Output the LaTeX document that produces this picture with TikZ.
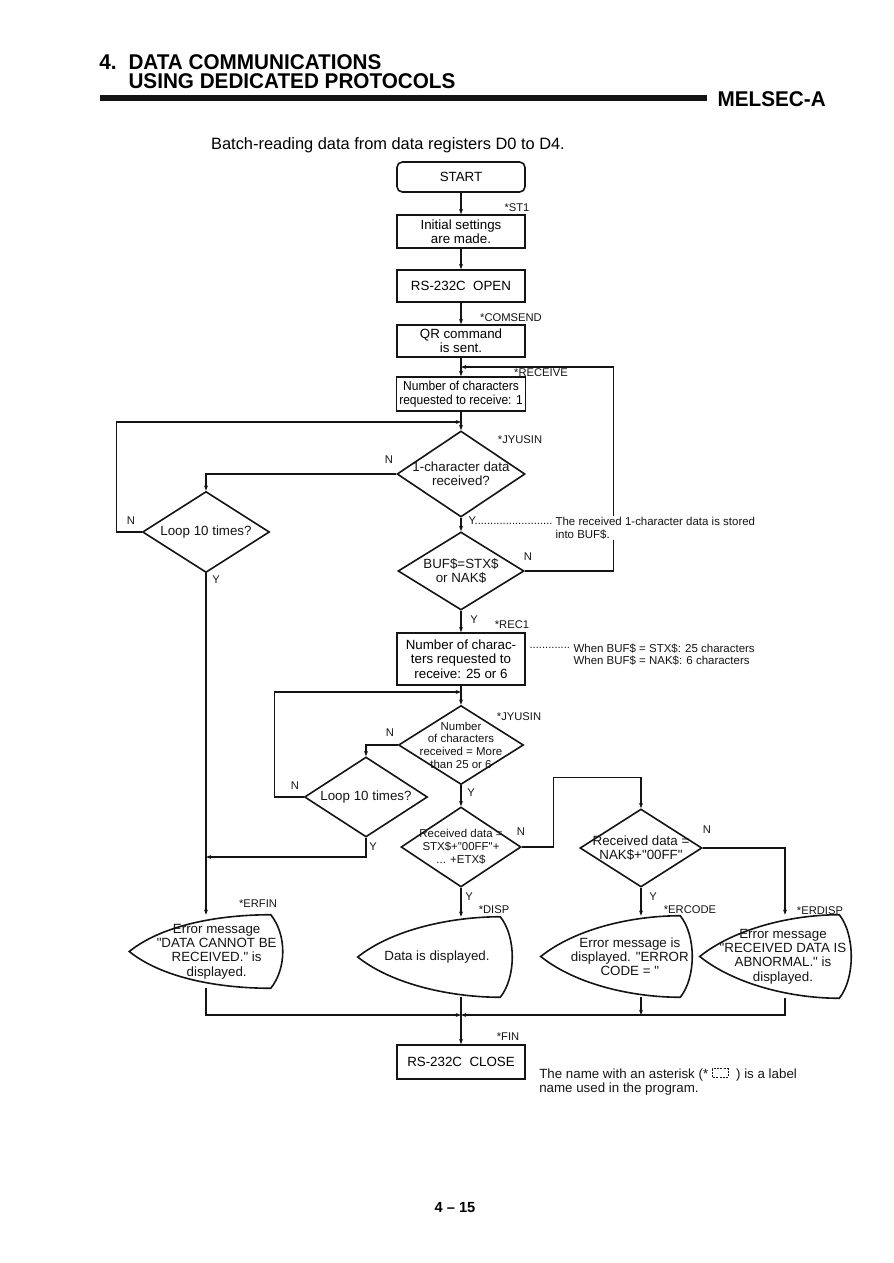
\documentclass[tikz,border=0pt]{standalone}
\usepackage{fontspec}
\setmainfont{Liberation Sans}
\newfontfamily\headfont[FakeStretch=0.97]{Liberation Sans}
\newfontfamily\narrowfont[FakeStretch=0.92]{Liberation Sans}
\usetikzlibrary{arrows.meta,positioning,calc,shapes.geometric}
\definecolor{Ink}{HTML}{141414}

\newcommand{\dispedge}[1]{%
  \draw[shapeline] (#1.west)
    .. controls ($(#1.west)+(35,-28)$) and ($(#1.north east)+(-60,0)$) .. ($(#1.north east)+(-12,0)$)
    .. controls ($(#1.north east)+(4,20)$) and ($(#1.south east)+(4,-20)$) .. ($(#1.south east)+(-12,0)$)
    .. controls ($(#1.south east)+(-60,0)$) and ($(#1.west)+(35,28)$) .. cycle;}
\newcommand{\dq}{\textquotedbl}

\begin{document}
\begin{tikzpicture}[x=0.75pt,y=-0.75pt,
    box/.style={rectangle,draw=Ink,line width=1.2pt,minimum width=96pt,align=center,inner sep=2pt,font=\fontsize{10}{10.8}\selectfont},
    term/.style={box,rounded corners=4pt},
    dec/.style={diamond,draw=Ink,line width=1.2pt,inner sep=0pt},
    dtext/.style={align=center,inner sep=0pt,text=Ink,font=\fontsize{10}{10.7}\selectfont},
    dispbox/.style={rectangle,inner sep=0pt},
    shapeline/.style={draw=Ink,line width=1.2pt},
    arr/.style={-{Stealth[length=4pt,width=3pt]},draw=Ink,line width=0.9pt},
    lbl/.style={inner sep=1pt,text=Ink,font=\fontsize{8.4}{9}\selectfont},
    note/.style={align=left,inner sep=1pt,text=Ink,font=\fontsize{8.6}{9.2}\selectfont}
]
\useasboundingbox (0,0) rectangle (893,1263);

\node[anchor=north west,align=left,inner sep=0pt,font=\headfont\bfseries\fontsize{16}{14.6}\selectfont] (head) at (99,54)
  {4.\hspace{9pt}DATA COMMUNICATIONS\\\phantom{4.}\hspace{9pt}USING DEDICATED PROTOCOLS};
\fill[Ink] (100,95) rectangle (707,101);
\node[anchor=base east,inner sep=0pt,font=\headfont\bfseries\fontsize{16}{18}\selectfont] (brand) at (826,106) {MELSEC-A};
\node[font=\fontsize{12.3}{14}\selectfont] (title) at (388,145) {Batch-reading data from data registers D0 to D4.};

\node[term,minimum height=22.5pt] (start) at (461,177) {START};
\node[box,minimum height=24.75pt] (init) at (461,231.5) {Initial settings\\are made.};
\node[box,minimum height=24pt] (open) at (461,286) {RS-232C\ \ OPEN};
\node[box,minimum height=24pt] (qr) at (461,341) {QR command\\is sent.};
\node[box,minimum height=25.5pt,font=\narrowfont\fontsize{9.8}{10.5}\selectfont] (num1) at (461,394) {Number of characters\\requested to receive: 1};
\node[dec,minimum width=96pt,minimum height=64.5pt,label={[dtext]center:1-character data\\received?}] (chr) at (461,474) {};
\node[dec,minimum width=95.25pt,minimum height=60.75pt,label={[dtext]center:Loop 10 times?}] (loop1) at (206,532) {};
\node[dec,minimum width=94.5pt,minimum height=58.5pt,label={[dtext]center:BUF\$=STX\$\\or NAK\$}] (buf) at (461,571) {};
\node[box,minimum height=39pt] (num2) at (461,659) {Number of charac-\\ters requested to\\receive: 25 or 6};
\node[dec,minimum width=93.75pt,minimum height=59.25pt,label={[dtext,font=\fontsize{8.6}{9.5}\selectfont]center:Number\\of characters\\received = More\\than 25 or 6}] (cnt) at (461,745) {};
\node[dec,minimum width=92.25pt,minimum height=60pt,label={[dtext]center:Loop 10 times?}] (loop2) at (366,797) {};
\node[dec,minimum width=90pt,minimum height=60pt,label={[dtext,font=\fontsize{8.6}{9.7}\selectfont]center:Received data =\\STX\$+\dq00FF\dq+\\... +ETX\$}] (stx) at (461,847) {};
\node[dec,minimum width=91.5pt,minimum height=58.5pt,label={[dtext]center:Received data =\\NAK\$+\dq00FF\dq}] (nak) at (641,848) {};

\node[dispbox,minimum width=114.75pt,minimum height=54.75pt,label={[dtext,xshift=8pt]center:Error message\\\dq DATA CANNOT BE\\RECEIVED.\dq\ is\\displayed.}] (erfin) at (206,951.5) {};
\node[dispbox,minimum width=115.5pt,minimum height=60pt,label={[dtext,xshift=1.5pt]center:Data is displayed.}] (disp) at (435,957) {};
\node[dispbox,minimum width=113.25pt,minimum height=60.75pt,label={[dtext,xshift=10pt]center:Error message is\\displayed. \dq ERROR\\CODE = \dq}] (ercode) at (616.5,956.5) {};
\node[dispbox,minimum width=113.25pt,minimum height=62.25pt,label={[dtext,xshift=5.6pt]center:Error message\\\dq RECEIVED DATA IS\\ABNORMAL.\dq\ is\\displayed.}] (erdisp) at (775.5,956.5) {};
\foreach \s in {erfin,disp,ercode,erdisp}{\dispedge{\s}}
\node[box,minimum height=25.5pt] (close) at (461,1062) {RS-232C\ \ CLOSE};

\coordinate (j0) at (461,367);
\coordinate (j1) at (461,422);
\coordinate (j3) at (461,692);
\coordinate (j2) at (206,857);
\coordinate (jn) at (461,1015);

\foreach \a/\b in {start/init,init/open,open/qr,qr/num1,num1/chr,chr/buf,buf/num2,num2/cnt,cnt/stx}{\draw[arr] (\a) -- (\b);}
\draw[arr] (stx.south) -- (stx.south |- disp.north);
\draw[arr] (nak.south) -- (nak.south |- ercode.north);
\draw[arr] (chr.west) -| (loop1.north);
\draw[arr] (loop1.west) -- ++(-25,0) |- (j1);
\draw[arr] (loop1.south) -- (erfin.north);
\draw[arr] (buf.east) -- ++(89,0) |- (j0);
\draw[arr] (cnt.west) -| (loop2.north);
\draw[arr] (loop2.west) -- ++(-29,0) |- (j3);
\draw[arr] (loop2.south) |- (j2);
\draw[arr] (stx.east) -- ++(32,0) |- ($(nak.north)+(0,-31)$) -- (nak.north);
\draw[arr] (nak.east) -| ($(erdisp.north)+(9.5,0)$);
\draw[arr] (erfin.south) |- (jn);
\draw[arr] ($(erdisp.south)+(9.5,0)$) |- (jn);
\draw[arr] (ercode.south -| nak.south) -- (jn -| nak.south);
\draw[arr] (disp.south -| jn) -- (close.north);

\foreach \pos/\txt [count=\i] in {{517,208}/*ST1,{511,318}/*COMSEND,{541,373}/*RECEIVE,{520,440}/*JYUSIN,
    {389,460}/N,{131,521}/N,{216,580}/Y,{528,557}/N,{474,620}/Y,{512,625}/*REC1,{519,717}/*JYUSIN,
    {390,733}/N,{295,786}/N,{373,847}/Y,{471,793}/Y,{521,832}/N,{707,830}/N,{469,897}/Y,{494,910}/*DISP,
    {653,897}/Y,{690,910}/*ERCODE,{258,904}/*ERFIN,{820,911}/*ERDISP,{508,1037}/*FIN}
  {\node[lbl] (tag\i) at (\pos) {\txt};}

\node[lbl,anchor=west] (ydots) at (467,521) {Y.........................};
\node[note,anchor=north west,fill=white] (rcvnote) at (554,516) {The received 1-character data is stored\\into BUF\$.};
\node[lbl,anchor=west] (recdots) at (528,648) {.............};
\node[note,anchor=west] (lennote) at (572,655) {When BUF\$ = STX\$: 25 characters\\When BUF\$ = NAK\$: 6 characters};
\node[anchor=north west,align=left,inner sep=0pt,text=Ink,font=\fontsize{10}{10.7}\selectfont] (legend) at (539,1068)
  {The name with an asterisk (* \tikz[baseline=-0.5pt]\draw[dash pattern=on 1.5pt off 1pt,line width=0.6pt] (0pt,0pt) rectangle (12pt,6.5pt);\ \ ) is a label\\name used in the program.};
\node[font=\bfseries\fontsize{11}{12}\selectfont] (pageno) at (455,1208) {4 -- 15};
\end{tikzpicture}
\end{document}
